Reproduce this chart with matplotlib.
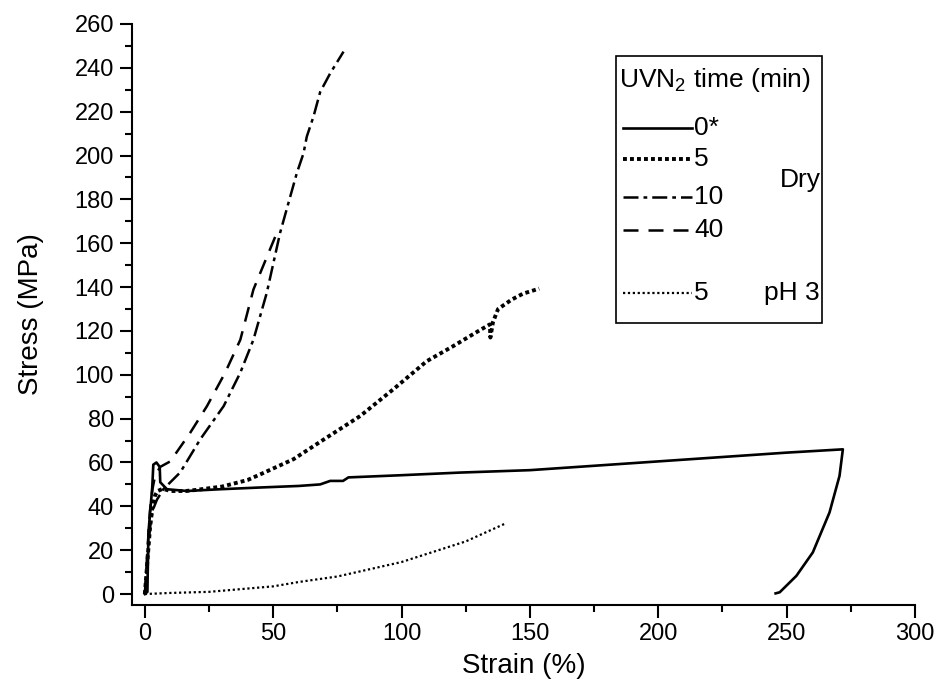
import matplotlib
matplotlib.use("Agg")
import matplotlib.pyplot as plt
from matplotlib.lines import Line2D
from matplotlib.patches import Rectangle

plt.rcParams['font.family'] = ['Liberation Sans', 'DejaVu Sans']
plt.rcParams['mathtext.fontset'] = 'custom'
plt.rcParams['mathtext.rm'] = 'Liberation Sans'
plt.rcParams['mathtext.default'] = 'regular'

# dry, 0 min
x_0 = [0, 1.0, 1.4, 2.9, 3.3, 4.5, 5.8, 6.0, 8.6, 16.4, 29.4, 45, 60, 68.3, 72.2, 77.2, 79.3,
       100, 122.8, 150, 175, 200, 225, 250, 271.9,
       270.6, 266.7, 260.2, 253.8, 247.3, 245.7]
y_0 = [0, 1, 28, 49, 59, 60, 58, 51, 47.8, 47, 47.8, 48.6, 49.3, 50, 51.6, 51.6, 53.2,
       54.2, 55.4, 56.5, 58.5, 60.5, 62.5, 64.5, 66,
       53.9, 37.2, 19, 8.3, 0.8, 0.3]

# dry, 5 min
x_5 = [0, 1, 2, 3, 4, 5, 7, 10, 16, 20, 30, 40, 45, 57.9, 70.9, 83.9, 96.8, 109.8,
       120, 130, 134.4, 134.6, 135.6, 137.6, 142.9, 147.3, 153.6]
y_5 = [0, 15, 30, 40, 45, 47, 48, 47, 47, 47.5, 49, 52, 54.6, 61.5, 71.4, 81.2, 93.4, 106.2,
       113, 120, 123, 117, 124, 130, 134.3, 137, 139.3]

# dry, 10 min
x_10 = [0, 1, 2, 3, 4.7, 7.2, 13.8, 21.6, 30.7, 37.2, 42.3, 47.5, 52.7, 59.2, 61.8,
        63.1, 65.7, 68.3, 72.2, 77.4]
y_10 = [0, 15, 30, 38, 43, 47.8, 55.5, 70.6, 85.7, 101, 116, 137.4, 164.8, 192, 201,
        208.7, 217.8, 229, 237.5, 247.4]

# dry, 40 min
x_40 = [0, 1, 2, 3, 4, 6, 9.9, 17.7, 24.2, 31.3, 37.2, 42.3, 50.8]
y_40 = [0, 20, 38, 48, 54, 58, 60.5, 73.6, 85.7, 101, 116, 138.9, 163]

# pH 3, 5 min
x_ph = [0, 10, 25, 50, 60, 75, 100, 125, 140.7]
y_ph = [0, 0.5, 1, 3.5, 5.5, 8, 14.6, 24, 32.3]

styles = {
    '0*': dict(ls='-', lw=1.9),
    '5': dict(ls=(0, (1, 0.8)), lw=2.8),
    '10': dict(ls=(0, (6, 2, 1.5, 2)), lw=1.8),
    '40': dict(ls=(0, (6, 4)), lw=1.8),
    'ph': dict(ls=(0, (1, 1.2)), lw=1.6),
}

fig = plt.figure(figsize=(9.36, 6.92), dpi=100)
ax = fig.add_axes([132 / 936, 1 - 605 / 692, 783 / 936, 581 / 692])

ax.plot(x_0, y_0, color='black', **styles['0*'])
ax.plot(x_5, y_5, color='black', **styles['5'])
ax.plot(x_10, y_10, color='black', **styles['10'])
ax.plot(x_40, y_40, color='black', **styles['40'])
ax.plot(x_ph, y_ph, color='black', **styles['ph'])

ax.set_xlim(-5, 300)
ax.set_ylim(-5, 260)
ax.set_xticks(range(0, 301, 50))
ax.set_xticks(range(0, 301, 25), minor=True)
ax.set_yticks(range(0, 261, 20))
ax.set_yticks(range(0, 261, 10), minor=True)
ax.spines['top'].set_visible(False)
ax.spines['right'].set_visible(False)
for s in ['left', 'bottom']:
    ax.spines[s].set_linewidth(1.5)
ax.tick_params(which='major', direction='out', length=9, width=1.5, labelsize=17, pad=4)
ax.tick_params(which='minor', direction='out', length=5, width=1.5)
ax.set_xlabel('Strain (%)', fontsize=20, labelpad=6)
ax.set_ylabel('Stress (MPa)', fontsize=20, labelpad=22)


def fx(px):
    return px / 936


def fy(py):
    return 1 - py / 692


# hand-built legend box
fig.add_artist(Rectangle((fx(616), fy(323)), fx(822) - fx(616), fy(56) - fy(323),
                         transform=fig.transFigure, fill=False, edgecolor='black', lw=1.2))
fig.text(fx(619), fy(80), 'UVN$_2$ time (min)', fontsize=19, va='center', ha='left')
entries = [('0*', '0*', 128), ('5', '5', 159), ('10', '10', 197), ('40', '40', 230), ('ph', '5', 293)]
for key, label, py in entries:
    fig.add_artist(Line2D([fx(623), fx(692)], [fy(py), fy(py)], transform=fig.transFigure,
                          color='black', **styles[key]))
    fig.text(fx(694), fy(py), label, fontsize=19, va='center', ha='left')
fig.text(fx(821), fy(180), 'Dry', fontsize=19, va='center', ha='right')
fig.text(fx(820), fy(293), 'pH 3', fontsize=19, va='center', ha='right')

fig.savefig('out.png', dpi=100)
